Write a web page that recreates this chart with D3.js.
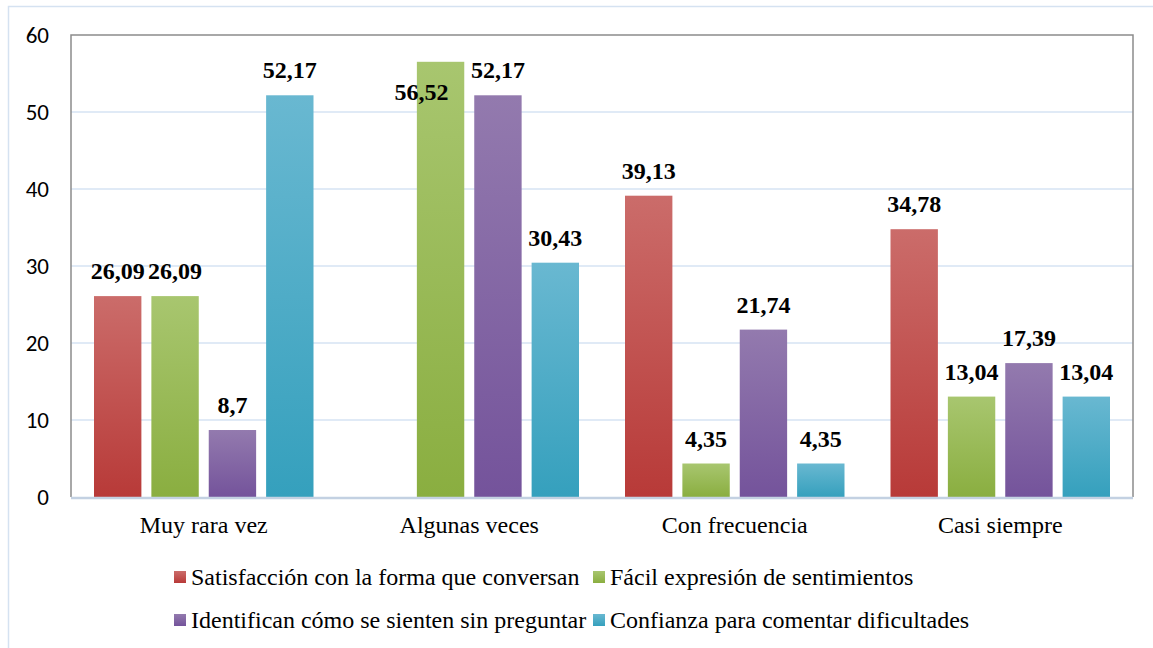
<!DOCTYPE html>
<html>
<head>
<meta charset="utf-8">
<script src="https://cdn.jsdelivr.net/npm/d3@7"></script>
<style>
  body { margin: 0; background: #fff; }
  svg { display: block; }
</style>
</head>
<body>
<script>
// chart data
var categories = ["Muy rara vez", "Algunas veces", "Con frecuencia", "Casi siempre"];
var series = [
  "Satisfacción con la forma que conversan",
  "Fácil expresión de sentimientos",
  "Identifican cómo se sienten sin preguntar",
  "Confianza para comentar dificultades"
];
// one array per series, in category order (null = no bar)
var satisfaccion = [26.09, null, 39.13, 34.78];
var facil = [26.09, 56.52, 4.35, 13.04];
var identifican = [8.7, 52.17, 21.74, 17.39];
var confianza = [52.17, 30.43, 4.35, 13.04];
var values = [satisfaccion, facil, identifican, confianza];
var yTicks = [0, 10, 20, 30, 40, 50, 60];

// colours top -> bottom of each bar
var colTop = ["#cb6c6a", "#a8c66f", "#937aae", "#69b8d1"];
var colBot = ["#b83a38", "#8aae40", "#74539b", "#35a0bd"];

var SERIF = "'Liberation Serif'";
var SANS = "'Carlito'";

var W = 1153, H = 648;
var m = {left: 71, top: 35, right: 1133, bottom: 497};

var svg = d3.select("body").append("svg")
  .attr("width", W).attr("height", H);

var defs = svg.append("defs");
series.forEach(function(s, i) {
  var g = defs.append("linearGradient")
    .attr("id", "g" + i).attr("x1", 0).attr("y1", 0).attr("x2", 0).attr("y2", 1);
  g.append("stop").attr("offset", "0%").attr("stop-color", colTop[i]);
  g.append("stop").attr("offset", "100%").attr("stop-color", colBot[i]);
});

// outer chart border
svg.append("rect")
  .attr("x", 8.5).attr("y", 6.5).attr("width", W).attr("height", H)
  .attr("fill", "none").attr("stroke", "#d5e2f1").attr("stroke-width", 1.5);

var x0 = d3.scaleBand().domain(categories).range([m.left, m.right]).padding(0);
var x1 = d3.scaleBand().domain(d3.range(series.length))
  .range([23, x0.bandwidth() - 23]).paddingInner(0.174).paddingOuter(0);
var y = d3.scaleLinear().domain([0, 60]).range([m.bottom, m.top]);

// gridlines
svg.append("g").selectAll("line").data(yTicks.slice(1, -1)).enter().append("line")
  .attr("x1", m.left).attr("x2", m.right)
  .attr("y1", function(d) { return y(d); }).attr("y2", function(d) { return y(d); })
  .attr("stroke", "#d6e3f3").attr("stroke-width", 1.5);

// plot border (top, right, left)
svg.append("path")
  .attr("d", "M" + m.left + "," + m.bottom + "V" + m.top + "H" + m.right + "V" + m.bottom)
  .attr("fill", "none").attr("stroke", "#8c8c8c").attr("stroke-width", 1.5);

// y axis labels
var yAxis = d3.axisLeft(y).tickValues(yTicks).tickSize(0).tickPadding(22);
var ya = svg.append("g").attr("transform", "translate(" + m.left + ",0)").call(yAxis);
ya.select(".domain").remove();
ya.selectAll("text")
  .style("font-family", SANS).style("font-size", "23px").attr("fill", "#000");

// bars
var cells = [];
categories.forEach(function(c, ci) {
  series.forEach(function(s, si) {
    if (values[si][ci] !== null) cells.push({c: c, s: si, v: values[si][ci]});
  });
});

svg.append("g").selectAll("rect").data(cells).enter().append("rect")
  .attr("x", function(d) { return x0(d.c) + x1(d.s); })
  .attr("width", x1.bandwidth())
  .attr("y", function(d) { return y(d.v); })
  .attr("height", function(d) { return y(0) - y(d.v); })
  .attr("fill", function(d) { return "url(#g" + d.s + ")"; });

// x axis baseline
svg.append("line")
  .attr("x1", m.left).attr("x2", m.right).attr("y1", m.bottom + 1).attr("y2", m.bottom + 1)
  .attr("stroke", "#c3d1e2").attr("stroke-width", 2.5);

// value labels
function fmt(v) { return String(v).replace(".", ","); }
function crowded(d) { return y(d.v) - 17 < m.top + 20; }
svg.append("g").selectAll("text").data(cells).enter().append("text")
  .attr("x", function(d) {
    var cx = x0(d.c) + x1(d.s) + x1.bandwidth() / 2;
    return crowded(d) ? cx - 19 : cx;
  })
  .attr("y", function(d) { return crowded(d) ? y(d.v) + 38 : y(d.v) - 17; })
  .attr("text-anchor", "middle")
  .style("font-family", SERIF).style("font-weight", "bold").style("font-size", "24px")
  .attr("fill", "#000")
  .text(function(d) { return fmt(d.v); });

// category labels
svg.append("g").selectAll("text").data(categories).enter().append("text")
  .attr("x", function(d) { return x0(d) + x0.bandwidth() / 2; })
  .attr("y", 533)
  .attr("text-anchor", "middle")
  .style("font-family", SERIF).style("font-size", "24px").attr("fill", "#000")
  .text(function(d) { return d; });

// legend
var legX = [174, 593], legY = [585, 628];
var leg = svg.append("g").selectAll("g").data(series).enter().append("g")
  .attr("transform", function(d, i) {
    return "translate(" + legX[i % 2] + "," + legY[Math.floor(i / 2)] + ")";
  });
leg.append("rect").attr("x", 0).attr("y", -14).attr("width", 12).attr("height", 12)
  .attr("fill", function(d, i) { return "url(#g" + i + ")"; });
leg.append("text").attr("x", 17).attr("y", 0)
  .style("font-family", SERIF).style("font-size", "24px").attr("fill", "#000")
  .text(function(d) { return d; });
</script>
</body>
</html>
